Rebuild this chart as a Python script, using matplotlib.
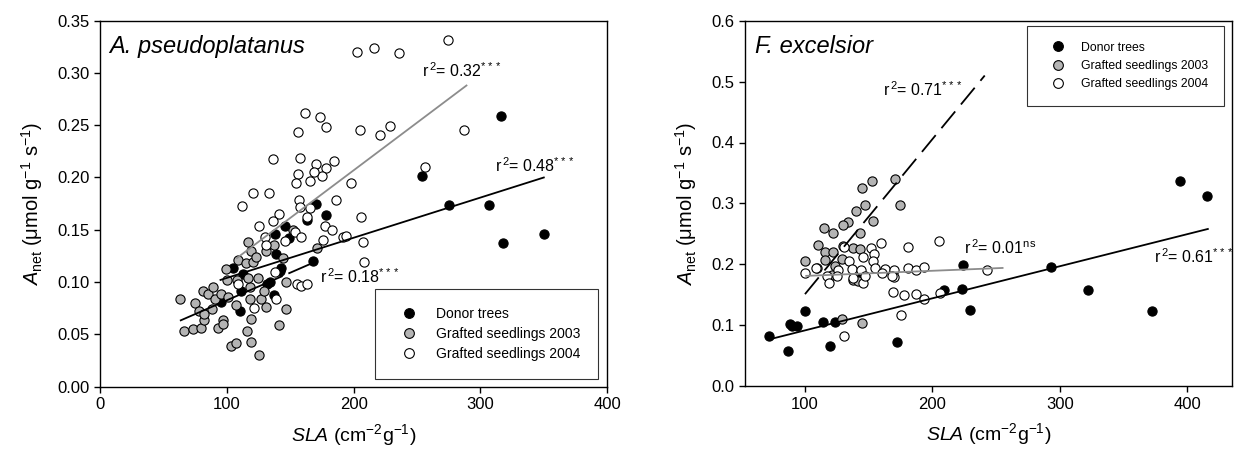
import matplotlib
matplotlib.use("Agg")
from matplotlib import pyplot as plt
from matplotlib.lines import Line2D
import numpy as np

plt.rcParams['font.family'] = ['Liberation Sans', 'DejaVu Sans']
plt.rcParams['mathtext.fontset'] = 'custom'
plt.rcParams['mathtext.rm'] = 'Liberation Sans'
plt.rcParams['mathtext.it'] = 'Liberation Sans:italic'
plt.rcParams['mathtext.bf'] = 'Liberation Sans:bold'

# --- A. pseudoplatanus ---
ap_donor_sla = [254, 316, 275, 307, 318, 350, 170, 178, 163, 168, 146, 149, 138, 139,
                105, 113, 142, 143, 134, 132, 137, 111, 110, 95]
ap_donor_anet = [0.201, 0.259, 0.174, 0.174, 0.137, 0.146, 0.175, 0.164, 0.159, 0.120,
                 0.154, 0.142, 0.146, 0.127, 0.113, 0.108, 0.111, 0.113, 0.100, 0.098,
                 0.088, 0.091, 0.072, 0.081]

ap_s03_sla = [63, 75, 78, 66, 73, 80, 82, 82, 81, 85.5, 89, 91, 88, 93, 97, 97, 95.5, 101,
              99, 100, 108, 109, 107, 103, 107, 116, 119, 125, 119, 118, 118, 117, 115,
              120.5, 117, 119, 123, 124.5, 127, 129, 131, 131, 137, 144, 147, 147, 141,
              152, 171.5]
ap_s03_anet = [0.084, 0.080, 0.072, 0.053, 0.055, 0.056, 0.064, 0.069, 0.091, 0.089, 0.095,
               0.084, 0.074, 0.056, 0.064, 0.060, 0.089, 0.086, 0.112, 0.102, 0.102, 0.121,
               0.078, 0.039, 0.042, 0.053, 0.043, 0.030, 0.065, 0.084, 0.095, 0.104, 0.118,
               0.119, 0.138, 0.130, 0.124, 0.104, 0.084, 0.091, 0.076, 0.130, 0.135, 0.123,
               0.100, 0.074, 0.059, 0.150, 0.133]

ap_s04_sla = [202.6, 215.8, 235.5, 274.5, 286.8, 205.3, 221, 228.4, 256.6, 198.2, 186.1,
              205.8, 184.2, 178.4, 175, 178.4, 173.7, 161.3, 155.8, 136.3, 157.9, 170.3,
              169.1, 155.8, 154.7, 165.8, 120.5, 132.9, 112.3, 141.3, 136.3, 125, 129.7,
              130.9, 145.5, 154, 158.4, 157.3, 157.9, 165.3, 163.2, 175.9, 177.6, 182.9,
              191.6, 194.3, 207.3, 207.8, 155.3, 158.4, 163.2, 139, 138.2, 121.6, 108.7]
ap_s04_anet = [0.320, 0.324, 0.319, 0.332, 0.245, 0.245, 0.241, 0.249, 0.210, 0.195, 0.178,
               0.162, 0.216, 0.209, 0.201, 0.248, 0.258, 0.262, 0.244, 0.218, 0.219, 0.213,
               0.205, 0.203, 0.195, 0.197, 0.185, 0.185, 0.173, 0.165, 0.158, 0.154, 0.143,
               0.135, 0.139, 0.148, 0.143, 0.178, 0.172, 0.171, 0.162, 0.140, 0.154, 0.150,
               0.143, 0.144, 0.138, 0.119, 0.098, 0.096, 0.098, 0.084, 0.110, 0.075, 0.098]

# droites de régression (extrémités)
ap_fit_donor_x, ap_fit_donor_y = [95, 350], [0.102, 0.200]
ap_fit_s03_x, ap_fit_s03_y = [63, 171], [0.063, 0.120]
ap_fit_s04_x, ap_fit_s04_y = [108, 289], [0.123, 0.288]

# --- F. excelsior ---
fe_donor_sla = [71.8, 86.9, 88.2, 89.6, 93.5, 100, 114.4, 123.5, 119.6, 172.4, 224.2, 209.3,
                222.9, 229.4, 292.7, 145, 394, 415.5, 321.7, 371.9]
fe_donor_anet = [0.082, 0.058, 0.102, 0.098, 0.099, 0.124, 0.105, 0.106, 0.066, 0.073, 0.199,
                 0.158, 0.160, 0.125, 0.196, 0.180, 0.336, 0.312, 0.157, 0.123]

fe_s03_sla = [144.5, 152.8, 170.6, 174.5, 147.1, 139.8, 133.5, 130, 153.6, 115.2, 121.7, 143.1,
              110.4, 115.7, 122.2, 130, 137.9, 143.1, 115.7, 109.2, 100.3, 123.5, 128.8, 121,
              137.9, 141.3, 128.8, 144.5]
fe_s03_anet = [0.326, 0.337, 0.340, 0.298, 0.297, 0.287, 0.270, 0.264, 0.271, 0.259, 0.252,
               0.252, 0.231, 0.220, 0.221, 0.230, 0.227, 0.225, 0.207, 0.194, 0.205, 0.197,
               0.209, 0.183, 0.175, 0.173, 0.111, 0.104]

fe_s04_sla = [204.9, 180.5, 160, 151.5, 154.4, 145.2, 130.5, 100.4, 108.6, 117, 118.8, 126.1,
              134.4, 136.6, 144, 153.6, 154.9, 162.7, 169.5, 169.8, 180.5, 187, 193.6, 145.7,
              137.9, 160.1, 169.3, 177.3, 186.8, 193, 206, 175.1, 130.6, 147.1, 124.9, 242.5,
              168]
fe_s04_anet = [0.238, 0.229, 0.235, 0.227, 0.217, 0.212, 0.229, 0.186, 0.194, 0.180, 0.170,
               0.191, 0.206, 0.192, 0.191, 0.205, 0.194, 0.192, 0.191, 0.179, 0.194, 0.190,
               0.196, 0.170, 0.177, 0.186, 0.155, 0.149, 0.152, 0.143, 0.153, 0.117, 0.083,
               0.180, 0.180, 0.190, 0.180]

fe_fit_donor_x, fe_fit_donor_y = [72.5, 416], [0.077, 0.258]
fe_fit_s03_x, fe_fit_s03_y = [100, 241], [0.151, 0.510]
fe_fit_s04_x, fe_fit_s04_y = [101, 255], [0.181, 0.194]

GRIS = '#b4b4b4'
GRIS_LIGNE = '#8c8c8c'


def nuage(ax, x, y, couleur):
    ax.scatter(x, y, s=44, c=couleur, edgecolors='black', linewidths=0.8, zorder=3)


def habiller(ax, xlim, ylim, yticks, fmt):
    ax.set_xlim(*xlim)
    ax.set_ylim(*ylim)
    ax.set_yticks(yticks)
    ax.yaxis.set_major_formatter(matplotlib.ticker.FormatStrFormatter(fmt))
    ax.tick_params(direction='out', length=4, width=1, labelsize=12, top=False, right=False)
    for s in ax.spines.values():
        s.set_linewidth(1.0)
    ax.set_xlabel(r'$\mathit{SLA}$ (cm$^{-2}$g$^{-1}$)', fontsize=14, labelpad=7)
    ax.set_ylabel(r'$\mathit{A}_{\mathrm{net}}$ (μmol g$^{-1}$ s$^{-1}$)', fontsize=14.5, labelpad=9)


def legende(ax, taille, **kw):
    poignees = [
        Line2D([], [], ls='none', marker='o', ms=7, mfc='black', mec='black', mew=0.8),
        Line2D([], [], ls='none', marker='o', ms=7, mfc=GRIS, mec='black', mew=0.8),
        Line2D([], [], ls='none', marker='o', ms=7, mfc='white', mec='black', mew=0.8),
    ]
    leg = ax.legend(poignees, ['Donor trees', 'Grafted seedlings 2003', 'Grafted seedlings 2004'],
                    fontsize=taille, frameon=True, fancybox=False, borderpad=1.3,
                    borderaxespad=0, handlelength=2.4, handletextpad=0.7,
                    labelspacing=0.45 * 10 / taille, **kw)
    leg.get_frame().set_edgecolor('black')
    leg.get_frame().set_linewidth(0.8)


fig = plt.figure(figsize=(12.43, 4.5), dpi=100)
ax1 = fig.add_axes([0.0805, 0.141, 0.408, 0.813])
ax2 = fig.add_axes([0.5994, 0.142, 0.3918, 0.812])

# panneau gauche
nuage(ax1, ap_donor_sla, ap_donor_anet, 'black')
nuage(ax1, ap_s03_sla, ap_s03_anet, GRIS)
nuage(ax1, ap_s04_sla, ap_s04_anet, 'white')
ax1.plot(ap_fit_donor_x, ap_fit_donor_y, color='black', lw=1.3, zorder=4)
ax1.plot(ap_fit_s03_x, ap_fit_s03_y, color='black', lw=1.3, ls=(0, (62, 3.5, 14, 3.5)), zorder=4)
ax1.plot(ap_fit_s04_x, ap_fit_s04_y, color=GRIS_LIGNE, lw=1.3, zorder=4)
habiller(ax1, (0, 400), (0, 0.35), np.arange(0, 0.351, 0.05), '%.2f')
ax1.set_xticks([0, 100, 200, 300, 400])
ax1.text(0.017, 0.93, 'A. pseudoplatanus', transform=ax1.transAxes, fontsize=17,
         style='italic', va='center', ha='left')
ax1.text(253.7, 0.2965, r'r$^{\,2}$= 0.32$^{***}$', fontsize=11.5, va='baseline')
ax1.text(311.8, 0.2055, r'r$^{\,2}$= 0.48$^{***}$', fontsize=11.5, va='baseline')
ax1.text(173.7, 0.0988, r'r$^{\,2}$= 0.18$^{***}$', fontsize=11.5, va='baseline')
legende(ax1, 10, loc='lower right', bbox_to_anchor=(0.982, 0.02))

# panneau droit
nuage(ax2, fe_donor_sla, fe_donor_anet, 'black')
nuage(ax2, fe_s03_sla, fe_s03_anet, GRIS)
nuage(ax2, fe_s04_sla, fe_s04_anet, 'white')
ax2.plot(fe_fit_donor_x, fe_fit_donor_y, color='black', lw=1.3, zorder=4)
ax2.plot(fe_fit_s03_x, fe_fit_s03_y, color='black', lw=1.3, ls=(0, (12, 5)), zorder=4)
ax2.plot(fe_fit_s04_x, fe_fit_s04_y, color=GRIS_LIGNE, lw=1.3, zorder=4)
habiller(ax2, (53, 435), (0, 0.6), np.arange(0, 0.61, 0.1), '%.1f')
ax2.set_xticks([100, 200, 300, 400])
ax2.text(0.02, 0.93, 'F. excelsior', transform=ax2.transAxes, fontsize=17,
         style='italic', va='center', ha='left')
ax2.text(160.9, 0.477, r'r$^{\,2}$= 0.71$^{***}$', fontsize=11.5, va='baseline')
ax2.text(224.7, 0.2166, r'r$^{\,2}$= 0.01$^{\mathrm{ns}}$', fontsize=11.5, va='baseline')
ax2.text(373.7, 0.2028, r'r$^{\,2}$= 0.61$^{***}$', fontsize=11.5, va='baseline')
legende(ax2, 8.8, loc='upper right', bbox_to_anchor=(0.984, 0.986))

fig.savefig('out.png', dpi=100)
